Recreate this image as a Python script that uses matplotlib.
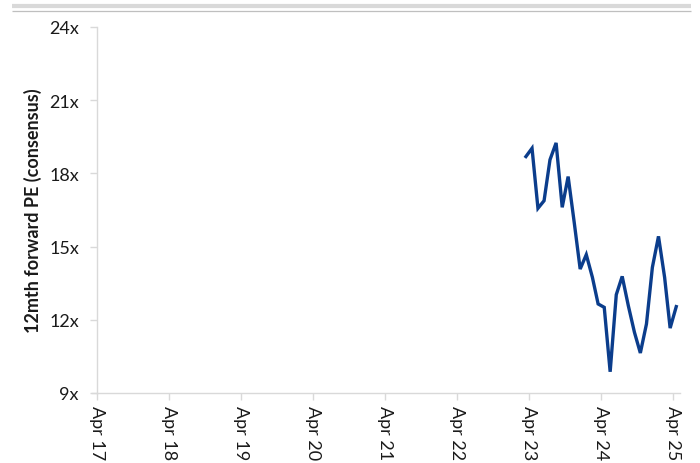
import numpy as np
import pandas as pd
import matplotlib
matplotlib.use("Agg")
import matplotlib.pyplot as plt
import matplotlib.dates as mdates
from matplotlib.lines import Line2D

plt.rcParams['font.family'] = ['Lato', 'DejaVu Sans']

# monthly 12m forward PE, mid-month observations
dates = pd.date_range('2023-03-01', periods=26, freq='MS') + pd.Timedelta(days=14)
pe = [18.69, 19.03, 16.57, 16.88, 18.56, 19.25, 16.61, 17.87, 15.98, 14.08,
      14.67, 13.74, 12.65, 12.51, 9.87, 13.03, 13.78, 12.58, 11.49, 10.64,
      11.83, 14.15, 15.42, 13.74, 11.66, 12.54]

yticks = [9, 12, 15, 18, 21, 24]
tick_dates = pd.date_range('2017-04-01', '2025-04-01', freq='12MS')

fig = plt.figure(figsize=(7, 4.64), dpi=100)
ax = fig.add_axes([97/700, 1 - 394/464, (680 - 97)/700, (394 - 28)/464])

ax.plot(dates, pe, color='#0b3d8c', lw=2.4, solid_joinstyle='miter')

ax.set_ylim(9, 24)
ax.set_yticks(yticks)
ax.set_yticklabels([f"{v}x" for v in yticks], fontsize=13, color='#1a1a1a')
ax.set_xlim(pd.Timestamp('2017-04-01'), pd.Timestamp('2025-05-04'))
ax.set_xticks(tick_dates)
ax.xaxis.set_major_formatter(mdates.DateFormatter('%b %y'))
for lab in ax.get_xticklabels():
    lab.set_rotation(270)
    lab.set_fontsize(13)
    lab.set_color('#1a1a1a')
    lab.set_va('top')
    lab.set_ha('center')

ax.set_ylabel('12mth forward PE (consensus)', fontsize=13, fontweight='bold',
              color='#1a1a1a', labelpad=5)

for s in ['top', 'right']:
    ax.spines[s].set_visible(False)
for s in ['left', 'bottom']:
    ax.spines[s].set_color('#d9d9d9')
    ax.spines[s].set_linewidth(1)
ax.tick_params(axis='both', colors='#d9d9d9', length=5, width=1, labelcolor='#1a1a1a')
ax.tick_params(axis='x', pad=4)
ax.tick_params(axis='y', pad=8)

# small stub of the x axis line left of the y axis
fig.add_artist(Line2D([91.7/700, 97/700], [1 - 394/464, 1 - 394/464],
                      color='#d9d9d9', lw=1))

# header rules
fig.add_artist(Line2D([12/700, 691/700], [1 - 6.7/464, 1 - 6.7/464],
                      color='#d9d9d9', lw=3.0, solid_capstyle='butt'))
fig.add_artist(Line2D([12/700, 691/700], [1 - 12.3/464, 1 - 12.3/464],
                      color='#bfbfbf', lw=0.9, solid_capstyle='butt'))

fig.savefig('out.png', dpi=100)
